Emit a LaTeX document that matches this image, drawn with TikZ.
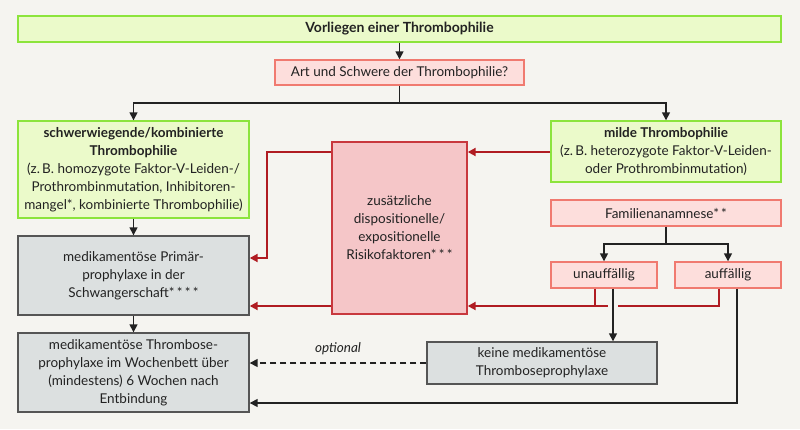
\documentclass[tikz,border=0pt]{standalone}
\usepackage{fontspec}
\setmainfont{Lato}
\usetikzlibrary{arrows.meta}
\definecolor{bg}{HTML}{F5F4F0}
\definecolor{gfill}{HTML}{EBFACA}
\definecolor{gline}{HTML}{8CE43C}
\definecolor{rfill}{HTML}{FDDEDC}
\definecolor{rline}{HTML}{F07A70}
\definecolor{mfill}{HTML}{F5C6C8}
\definecolor{mline}{HTML}{C8383E}
\definecolor{dred}{HTML}{B01C22}
\definecolor{grfill}{HTML}{DCE0E0}
\definecolor{grline}{HTML}{555555}
\definecolor{ink}{HTML}{222222}
\tikzset{
  box/.style={draw, line width=1.4pt, inner sep=0pt, align=center, text=ink,
    font=\fontsize{13.5}{18}\selectfont},
  greenbox/.style={box, fill=gfill, draw=gline},
  redbox/.style={box, fill=rfill, draw=rline},
  riskbox/.style={box, fill=mfill, draw=mline},
  greybox/.style={box, fill=grfill, draw=grline},
  conn/.style={draw=ink, line width=1.5pt, -{Triangle[length=8pt,width=8pt]}},
  plain/.style={draw=ink, line width=1.5pt},
  rconn/.style={draw=dred, line width=2pt, -{Triangle[length=8pt,width=8pt]}},
  rplain/.style={draw=dred, line width=2pt},
  dashconn/.style={conn, dash pattern=on 6pt off 4pt},
}
\begin{document}
\begin{tikzpicture}[x=1pt,y=-1pt]
\fill[bg] (0,0) rectangle (800,429);
\useasboundingbox (0,0) rectangle (800,429);

\node[greenbox, minimum width=763pt, minimum height=26pt, font=\fontsize{14}{18}\selectfont\bfseries] (top) at (399.5,29) {Vorliegen einer Thrombophilie};
\node[redbox, minimum width=249pt, minimum height=25pt] (art) at (399.5,72.5) {Art und Schwere der Thrombophilie?};
\node[greenbox, minimum width=231pt, minimum height=97pt] (sev) at (133.5,169.5)
  {\bfseries schwerwiegende/kombinierte\\ \bfseries Thrombophilie\\ (z.\,B. homozygote Faktor-V-Leiden-/\\ Prothrombinmutation, Inhibitoren-\\ mangel*, kombinierte Thrombophilie)};
\node[greenbox, minimum width=230pt, minimum height=61pt] (mild) at (666,151.5)
  {\bfseries milde Thrombophilie\\ (z.\,B. heterozygote Faktor-V-Leiden-\\ oder Prothrombinmutation)};
\node[redbox, minimum width=230pt, minimum height=26pt] (fam) at (666,213) {Familienanamnese*\,*};
\node[riskbox, minimum width=135pt, minimum height=172pt] (risk) at (399.5,228)
  {zusätzliche\\ dispositionelle/\\ expositionelle\\ Risikofaktoren*\,*\,*};
\node[greybox, minimum width=231pt, minimum height=79pt] (prim) at (133.5,275.5)
  {medikamentöse Primär-\\ prophylaxe in der\\ Schwangerschaft*\,*\,*\,*};
\node[greybox, minimum width=231pt, minimum height=79pt] (post) at (133.5,372.5)
  {medikamentöse Thrombose-\\ prophylaxe im Wochenbett über\\ (mindestens) 6 Wochen nach\\ Entbindung};
\node[redbox, minimum width=106pt, minimum height=26pt] (unauf) at (604,275) {unauffällig};
\node[redbox, minimum width=106pt, minimum height=26pt] (auf) at (728,275) {auffällig};
\node[greybox, minimum width=230pt, minimum height=42pt] (keine) at (542,363)
  {keine medikamentöse\\ Thromboseprophylaxe};

\coordinate (split) at (399.5,103);
\coordinate (fsplit) at (666,244);
\coordinate (rk) at (267,152);
\coordinate (ry) at (0,306);
\coordinate (uu) at (595,306);
\coordinate (ua) at (719,306);
\coordinate (bl) at (613,0);
\coordinate (al) at (737,403);

% black flow
\draw[conn] (top) -- (art);
\draw[plain] (art.south) -- (split);
\draw[conn] (split) -| (sev.north);
\draw[conn] (split) -| (mild.north);
\draw[conn] (sev) -- (prim);
\draw[conn] (prim) -- (post);
\draw[conn] (fam) -- (fam.south |- fsplit) -| (unauf.north);
\draw[conn] (fsplit) -| (auf.north);

% red flow
\draw[rconn] (mild.west |- rk) -- (risk.east |- rk);
\draw[rconn] (risk.west |- rk) -- (rk) |- (prim.east |- 0,258);
\draw[rconn] (risk.west |- ry) -- (prim.east |- ry);
\draw[rplain] (unauf.south -| uu) -- (uu);
\draw[rconn] (auf.south -| ua) -- (ua) -- (risk.east |- ry);

% black crossing with gap
\draw[bg, line width=10pt] (613,300) -- (613,312);
\draw[conn] (unauf.south -| bl) -- (keine.north -| bl);

\draw[conn] (auf.south -| al) -- (al) -- (post.east |- al);
\draw[dashconn] (keine.west) -- (post.east |- keine.west)
  node[pos=0.5, above=4pt, text=ink, font=\fontsize{13.5}{15}\selectfont\itshape] (opt) {optional};
\end{tikzpicture}
\end{document}
